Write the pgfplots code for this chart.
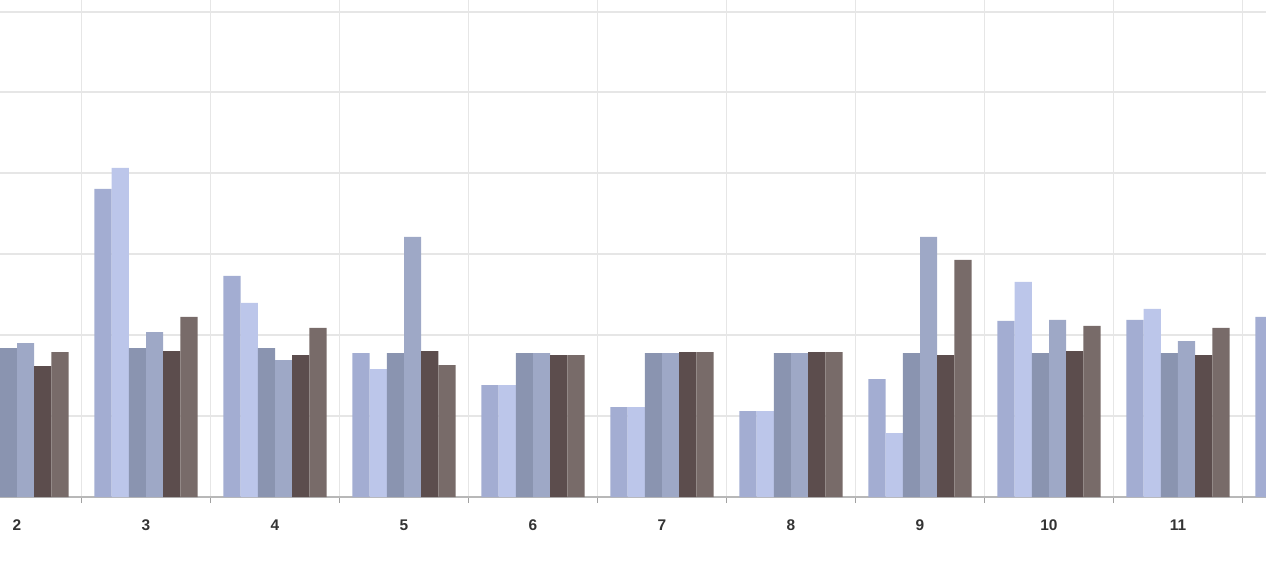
\documentclass[border=0pt]{standalone}
\usepackage{pgfplots}
\pgfplotsset{compat=1.18}
\usepackage{fontspec}
\setmainfont{Liberation Sans}
\definecolor{c1}{HTML}{A3ADD2}
\definecolor{c2}{HTML}{BCC6EA}
\definecolor{c3}{HTML}{8A94B0}
\definecolor{c4}{HTML}{9EA8C6}
\definecolor{c5}{HTML}{5C4D4D}
\definecolor{c6}{HTML}{786B69}
\definecolor{gr}{HTML}{E6E6E6}
\begin{document}
\begin{tikzpicture}
\path[use as bounding box] (0,0) rectangle (12.66,-5.63);
\begin{axis}[at={(0,0)},anchor=north west,scale only axis,width=12.66cm,height=4.97cm,
 xmin=1.868,xmax=11.682,ymin=0,ymax=497,
 axis line style={draw=none},
 xtick={2,...,11},
 xticklabels={2,3,4,5,6,7,8,9,10,11},
 xticklabel style={font=\fontsize{4.4}{5}\selectfont\bfseries,text=black!80,yshift=-0.1cm},
 major tick length=0pt,
 extra x ticks={1.5,2.5,...,11.5},extra x tick labels={},
 extra x tick style={grid=major,major grid style={gr,line width=0.3pt},major tick length=0.06cm,tick style={gr!70!black,line width=0.3pt},tick pos=bottom,tick align=outside},
 ytick={81,162,243,324,405,485},yticklabels={},
 ymajorgrids,major grid style={gr,line width=0.3pt},
 clip=false,
 every axis plot/.append style={ybar,bar width=0.172cm,draw=none},
]
\draw[gr!80!black,line width=0.3pt] (axis cs:1.868,0) -- (axis cs:11.682,0);
\addplot[fill=c1,bar shift=-0.43cm] coordinates {(3,308)(4,221)(5,144)(6,112)(7,90)(8,86)(9,118)(10,176)(11,177)(11.999,180)};
\addplot[fill=c2,bar shift=-0.258cm] coordinates {(3,329)(4,194)(5,128)(6,112)(7,90)(8,86)(9,64)(10,215)(11,188)};
\addplot[fill=c3,bar shift=-0.086cm] coordinates {(2,149)(3,149)(4,149)(5,144)(6,144)(7,144)(8,144)(9,144)(10,144)(11,144)};
\addplot[fill=c4,bar shift=0.086cm] coordinates {(2,154)(3,165)(4,137)(5,260)(6,144)(7,144)(8,144)(9,260)(10,177)(11,156)};
\addplot[fill=c5,bar shift=0.258cm] coordinates {(2,131)(3,146)(4,142)(5,146)(6,142)(7,145)(8,145)(9,142)(10,146)(11,142)};
\addplot[fill=c6,bar shift=0.43cm] coordinates {(2,145)(3,180)(4,169)(5,132)(6,142)(7,145)(8,145)(9,237)(10,171)(11,169)};
\end{axis}
\end{tikzpicture}
\end{document}
